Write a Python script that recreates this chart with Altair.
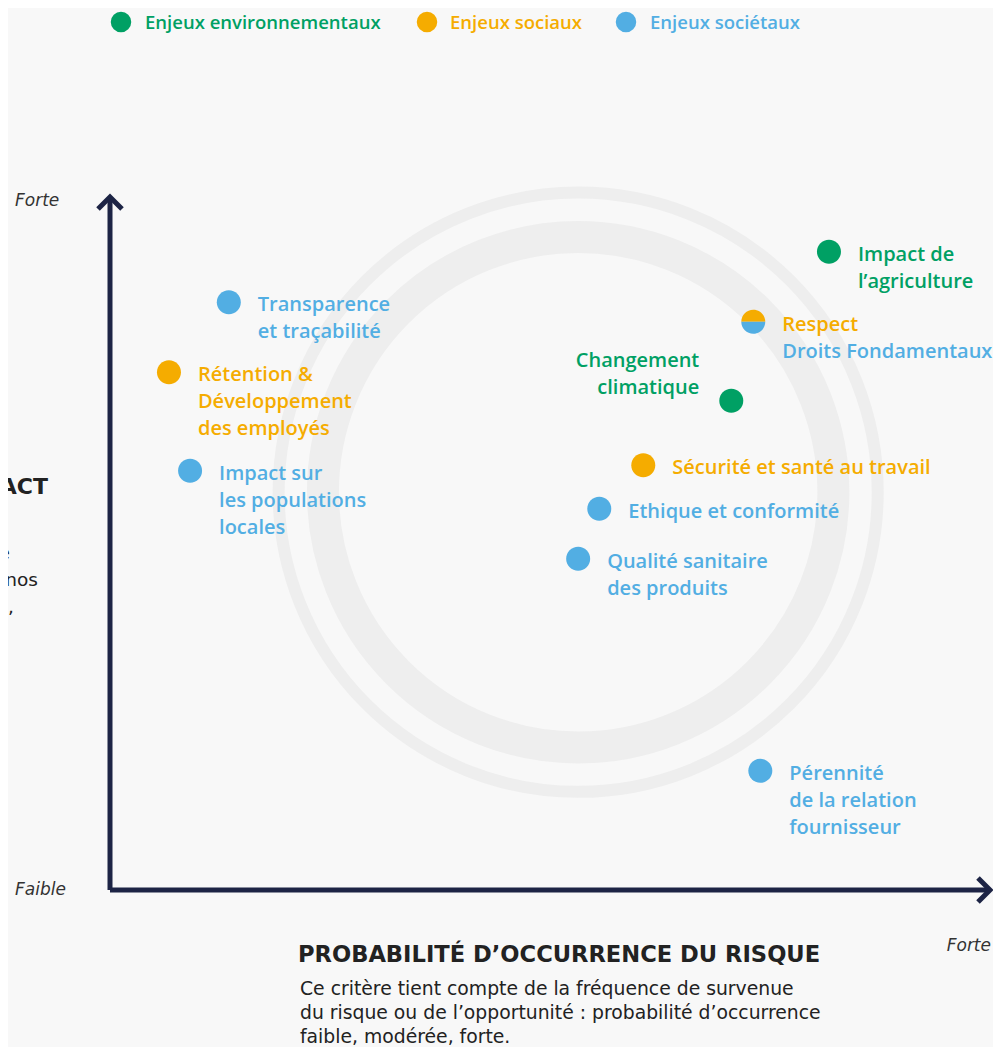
import altair as alt
import pandas as pd

# ------------------------------------------------------------------ data
enjeux = [
    "Impact de\nl’agriculture",
    "Respect\nDroits Fondamentaux",
    "Changement\nclimatique",
    "Sécurité et santé au travail",
    "Ethique et conformité",
    "Qualité sanitaire\ndes produits",
    "Pérennité\nde la relation\nfournisseur",
    "Transparence\net traçabilité",
    "Rétention &\nDéveloppement\ndes employés",
    "Impact sur\nles populations\nlocales",
]
probabilite = [8.17, 7.31, 7.06, 6.06, 5.56, 5.32, 7.39, 1.35, 0.67, 0.91]
impact = [9.21, 8.20, 7.06, 6.13, 5.50, 4.78, 1.72, 8.48, 7.47, 6.05]
categorie = [
    "Enjeux environnementaux",
    "Enjeux sociaux / Enjeux sociétaux",
    "Enjeux environnementaux",
    "Enjeux sociaux",
    "Enjeux sociétaux",
    "Enjeux sociétaux",
    "Enjeux sociétaux",
    "Enjeux sociétaux",
    "Enjeux sociaux",
    "Enjeux sociétaux",
]
cote_label = ["droite", "droite", "gauche", "droite", "droite",
              "droite", "droite", "droite", "droite", "droite"]

categories = ["Enjeux environnementaux", "Enjeux sociaux", "Enjeux sociétaux"]
couleurs = ["#00a064", "#f5ac00", "#52aee3"]

axe_x_titre = "PROBABILITÉ D’OCCURRENCE DU RISQUE"
axe_x_texte = [
    "Ce critère tient compte de la fréquence de survenue",
    "du risque ou de l’opportunité : probabilité d’occurrence",
    "faible, modérée, forte.",
]
niveau_fort = "Forte"
niveau_faible = "Faible"

# ------------------------------------------------------------------ tables
FULL = "M-1,0 A1,1 0 1,1 1,0 A1,1 0 1,1 -1,0 Z"
TOP = "M-1,0 A1,1 0 0,1 1,0 Z"
BOTTOM = "M-1,0 A1,1 0 0,0 1,0 Z"

pts_rows, lab_rows = [], []
for name, px, py, cat, side in zip(enjeux, probabilite, impact, categorie, cote_label):
    parts = [c.strip() for c in cat.split("/")]
    lines = name.split("\n")
    if len(parts) == 1:
        pts_rows.append(dict(x=px, y=py, cat=parts[0], forme="plein"))
        lab_rows.append(dict(x=px, y=py, cat=parts[0], texte=name, cote=side))
    else:
        pts_rows.append(dict(x=px, y=py, cat=parts[0], forme="haut"))
        pts_rows.append(dict(x=px, y=py, cat=parts[1], forme="bas"))
        for i, (ln, pc) in enumerate(zip(lines, parts)):
            lab_rows.append(dict(x=px, y=py, cat=pc, texte="\n" * i + ln, cote=side))
pts = pd.DataFrame(pts_rows)
labs = pd.DataFrame(lab_rows)

NAVY = "#1d2445"
FONT = "Open Sans"
FONT2 = "DejaVu Sans"
TXT = "#222222"

W, H = 880, 693
xs = alt.Scale(domain=[0, 10], nice=False, zero=False)
ys = alt.Scale(domain=[0, 10], nice=False, zero=False)
col = alt.Color("cat:N", scale=alt.Scale(domain=categories, range=couleurs), legend=None)

# decorative rings
rings = pd.DataFrame({"x": [5.32], "y": [5.74]})
ring_outer = alt.Chart(rings).mark_point(
    shape="circle", filled=False, size=3.14159 * 338 ** 2, strokeWidth=12,
    color="#eeeeee", opacity=1
).encode(x=alt.X("x:Q", scale=xs, axis=None), y=alt.Y("y:Q", scale=ys, axis=None))
ring_inner = alt.Chart(rings).mark_point(
    shape="circle", filled=False, size=3.14159 * 288 ** 2, strokeWidth=32,
    color="#eeeeee", opacity=1
).encode(x=alt.X("x:Q", scale=xs, axis=None), y=alt.Y("y:Q", scale=ys, axis=None))

# axes with arrows
axes_df = pd.DataFrame({"x": [0, 0], "y": [0, 0], "x2": [0, 10], "y2": [10, 0]})
axes = alt.Chart(axes_df).mark_rule(strokeWidth=5, color=NAVY).encode(
    x=alt.X("x:Q", scale=xs, axis=None), y=alt.Y("y:Q", scale=ys, axis=None),
    x2="x2:Q", y2="y2:Q")
arrow_up = alt.Chart(pd.DataFrame({"x": [0], "y": [10]})).mark_point(
    shape="M-1,1 L0,0 L1,1", filled=False, size=576, strokeWidth=5,
    color=NAVY, opacity=1, strokeJoin="miter"
).encode(x=alt.X("x:Q", scale=xs, axis=None), y=alt.Y("y:Q", scale=ys, axis=None))
arrow_right = alt.Chart(pd.DataFrame({"x": [10], "y": [0]})).mark_point(
    shape="M-1,-1 L0,0 L-1,1", filled=False, size=576, strokeWidth=5,
    color=NAVY, opacity=1, strokeJoin="miter"
).encode(x=alt.X("x:Q", scale=xs, axis=None), y=alt.Y("y:Q", scale=ys, axis=None))

# points
points = alt.Chart(pts).mark_point(filled=True, size=576, opacity=1, strokeWidth=0).encode(
    x=alt.X("x:Q", scale=xs, axis=None),
    y=alt.Y("y:Q", scale=ys, axis=None),
    color=col,
    shape=alt.Shape("forme:N", scale=alt.Scale(domain=["plein", "haut", "bas"],
                                                range=[FULL, TOP, BOTTOM]), legend=None),
)

labels_r = alt.Chart(labs).transform_filter("datum.cote == 'droite'").mark_text(
    align="left", baseline="alphabetic", dx=29, dy=9, fontSize=20, font=FONT,
    fontWeight=600, lineBreak="\n", lineHeight=27
).encode(x=alt.X("x:Q", scale=xs, axis=None), y=alt.Y("y:Q", scale=ys, axis=None),
         text="texte:N", color=col)
labels_l = alt.Chart(labs).transform_filter("datum.cote == 'gauche'").mark_text(
    align="right", baseline="alphabetic", dx=-32, dy=-34, fontSize=20, font=FONT,
    fontWeight=600, lineBreak="\n", lineHeight=27
).encode(x=alt.X("x:Q", scale=xs, axis=None), y=alt.Y("y:Q", scale=ys, axis=None),
         text="texte:N", color=col)


def note(txt, px, py, **kw):
    return alt.Chart(pd.DataFrame({"t": [txt]})).mark_text(**kw).encode(
        x=alt.value(px), y=alt.value(py), text="t:N")


layers = [ring_outer, ring_inner, axes, arrow_up, arrow_right, points, labels_r, labels_l]

# manual legend
leg_circle_x = [11, 317, 516]
leg_text_x = [35, 340, 540]
for c, colr, cx, tx in zip(categories, couleurs, leg_circle_x, leg_text_x):
    layers.append(alt.Chart(pd.DataFrame({"c": [c]})).mark_point(
        shape="circle", filled=True, size=420, color=colr, opacity=1
    ).encode(x=alt.value(cx), y=alt.value(-175)))
    layers.append(note(c, tx, -174, align="left", baseline="middle", fontSize=18.5,
                       font=FONT, fontWeight=600, color=colr))

# axis level labels
layers.append(note(niveau_fort, -95, 4, align="left", baseline="middle", fontSize=17,
                   font=FONT2, fontStyle="italic", color="#333333"))
layers.append(note(niveau_faible, -95, 693, align="left", baseline="middle", fontSize=17,
                   font=FONT2, fontStyle="italic", color="#333333"))
layers.append(note(niveau_fort, 881, 749, align="right", baseline="middle", fontSize=17,
                   font=FONT2, fontStyle="italic", color="#333333"))

# x-axis title and description
layers.append(note(axe_x_titre, 188, 758, align="left", baseline="middle", fontSize=22.6,
                   font=FONT2, fontWeight="bold", color=TXT))
for i, ln in enumerate(axe_x_texte):
    layers.append(note(ln, 190, 792 + 24 * i, align="left", baseline="middle", fontSize=18.8,
                       font=FONT2, color=TXT))

# cropped y-axis title on the left edge
layers.append(note("IMPACT", -62, 290, align="right", baseline="middle", fontSize=22,
                   font=FONT2, fontWeight="bold", color=TXT))
for txt, rx, ry in zip(["e", "nos", "e,"], [-100, -72, -96], [356, 383, 410]):
    layers.append(note(txt, rx, ry, align="right", baseline="middle", fontSize=18.5,
                       font=FONT2, color=TXT))

chart = alt.layer(*layers).properties(
    width=W, height=H,
    autosize=alt.AutoSizeParams(type="none"),
    padding={"left": 102, "top": 189, "right": 3, "bottom": 157},
    background="#f8f8f8",
).configure_view(stroke=None)

chart.save("out.html", embed_options={"renderer": "svg", "actions": False})
